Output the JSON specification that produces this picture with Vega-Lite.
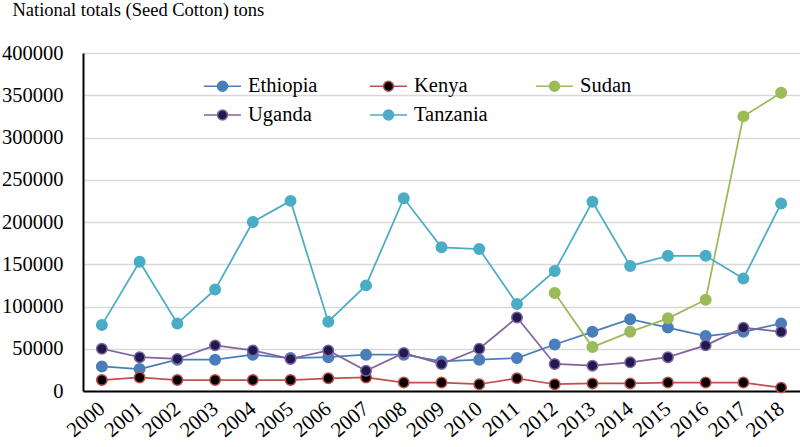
{
  "$schema": "https://vega.github.io/schema/vega-lite/v6.json",
  "autosize": {"type": "none"},
  "width": 717,
  "height": 338,
  "padding": {"left": 83, "top": 53, "right": 0, "bottom": 56},
  "background": "white",
  "config": {
    "view": {"stroke": null},
    "legend": {
      "orient": "none", "legendX": 120, "legendY": 22, "direction": "horizontal", "columns": 3,
      "gridAlign": "all", "columnPadding": 45, "rowPadding": 7,
      "symbolType": "M-1,0H0.35M1.35,0H2.7M0.35,0A0.5,0.5 0 1,0 1.35,0A0.5,0.5 0 1,0 0.35,0Z",
      "symbolSize": 400, "symbolStrokeWidth": 1.5, "labelOffset": 23,
      "labelFont": "Liberation Serif", "labelFontSize": 20.5, "labelColor": "black", "labelLimit": 200
    }
  },
  "data": {"values": [
    {"year":"2000","country":"Ethiopia","value":29000},{"year":"2001","country":"Ethiopia","value":26000},{"year":"2002","country":"Ethiopia","value":37000},{"year":"2003","country":"Ethiopia","value":37000},{"year":"2004","country":"Ethiopia","value":43000},{"year":"2005","country":"Ethiopia","value":39000},{"year":"2006","country":"Ethiopia","value":40000},{"year":"2007","country":"Ethiopia","value":43000},{"year":"2008","country":"Ethiopia","value":43000},{"year":"2009","country":"Ethiopia","value":35000},{"year":"2010","country":"Ethiopia","value":37000},{"year":"2011","country":"Ethiopia","value":39000},{"year":"2012","country":"Ethiopia","value":55000},{"year":"2013","country":"Ethiopia","value":70000},{"year":"2014","country":"Ethiopia","value":85000},{"year":"2015","country":"Ethiopia","value":75000},{"year":"2016","country":"Ethiopia","value":65000},{"year":"2017","country":"Ethiopia","value":70000},{"year":"2018","country":"Ethiopia","value":80000},
    {"year":"2000","country":"Kenya","value":13000},{"year":"2001","country":"Kenya","value":16000},{"year":"2002","country":"Kenya","value":13000},{"year":"2003","country":"Kenya","value":13000},{"year":"2004","country":"Kenya","value":13000},{"year":"2005","country":"Kenya","value":13000},{"year":"2006","country":"Kenya","value":15000},{"year":"2007","country":"Kenya","value":16000},{"year":"2008","country":"Kenya","value":10000},{"year":"2009","country":"Kenya","value":10000},{"year":"2010","country":"Kenya","value":8000},{"year":"2011","country":"Kenya","value":15000},{"year":"2012","country":"Kenya","value":8000},{"year":"2013","country":"Kenya","value":9000},{"year":"2014","country":"Kenya","value":9000},{"year":"2015","country":"Kenya","value":10000},{"year":"2016","country":"Kenya","value":10000},{"year":"2017","country":"Kenya","value":10000},{"year":"2018","country":"Kenya","value":4000},
    {"year":"2012","country":"Sudan","value":116000},{"year":"2013","country":"Sudan","value":52000},{"year":"2014","country":"Sudan","value":70000},{"year":"2015","country":"Sudan","value":86000},{"year":"2016","country":"Sudan","value":108000},{"year":"2017","country":"Sudan","value":325000},{"year":"2018","country":"Sudan","value":353000},
    {"year":"2000","country":"Uganda","value":50000},{"year":"2001","country":"Uganda","value":40000},{"year":"2002","country":"Uganda","value":38000},{"year":"2003","country":"Uganda","value":54000},{"year":"2004","country":"Uganda","value":48000},{"year":"2005","country":"Uganda","value":38000},{"year":"2006","country":"Uganda","value":48000},{"year":"2007","country":"Uganda","value":24000},{"year":"2008","country":"Uganda","value":45000},{"year":"2009","country":"Uganda","value":32000},{"year":"2010","country":"Uganda","value":50000},{"year":"2011","country":"Uganda","value":87000},{"year":"2012","country":"Uganda","value":32000},{"year":"2013","country":"Uganda","value":30000},{"year":"2014","country":"Uganda","value":34000},{"year":"2015","country":"Uganda","value":40000},{"year":"2016","country":"Uganda","value":54000},{"year":"2017","country":"Uganda","value":75000},{"year":"2018","country":"Uganda","value":70000},
    {"year":"2000","country":"Tanzania","value":78000},{"year":"2001","country":"Tanzania","value":153000},{"year":"2002","country":"Tanzania","value":80000},{"year":"2003","country":"Tanzania","value":120000},{"year":"2004","country":"Tanzania","value":200000},{"year":"2005","country":"Tanzania","value":225000},{"year":"2006","country":"Tanzania","value":82000},{"year":"2007","country":"Tanzania","value":125000},{"year":"2008","country":"Tanzania","value":228000},{"year":"2009","country":"Tanzania","value":170000},{"year":"2010","country":"Tanzania","value":168000},{"year":"2011","country":"Tanzania","value":103000},{"year":"2012","country":"Tanzania","value":142000},{"year":"2013","country":"Tanzania","value":224000},{"year":"2014","country":"Tanzania","value":148000},{"year":"2015","country":"Tanzania","value":160000},{"year":"2016","country":"Tanzania","value":160000},{"year":"2017","country":"Tanzania","value":133000},{"year":"2018","country":"Tanzania","value":222000}
  ]},
  "encoding": {
    "x": {
      "field": "year", "type": "ordinal", "sort": null,
      "scale": {"type": "point", "padding": 0.5},
      "axis": {
        "title": null, "labelAngle": -40, "labelAlign": "right", "labelBaseline": "middle",
        "labelFont": "Liberation Serif", "labelFontSize": 21, "labelColor": "black",
        "labelPadding": 15, "ticks": false, "domainColor": "black", "domainWidth": 2, "grid": false
      }
    },
    "y": {
      "field": "value", "type": "quantitative",
      "scale": {"domain": [0, 400000], "nice": false},
      "axis": {
        "values": [0, 50000, 100000, 150000, 200000, 250000, 300000, 350000, 400000],
        "format": "d", "ticks": false, "labelPadding": 20,
        "labelFont": "Liberation Serif", "labelFontSize": 20.5, "labelColor": "black",
        "domainColor": "black", "domainWidth": 2,
        "gridColor": "#d9d9d9", "gridWidth": 1.5,
        "title": "National totals (Seed Cotton) tons", "titleAngle": 0, "titleX": -71, "titleY": -38,
        "titleAlign": "left", "titleBaseline": "alphabetic",
        "titleFont": "Liberation Serif", "titleFontSize": 18.5, "titleFontWeight": "normal", "titleColor": "black"
      }
    }
  },
  "layer": [
    {
      "mark": {"type": "line", "strokeWidth": 1.75},
      "encoding": {
        "stroke": {
          "field": "country", "type": "nominal", "title": null,
          "scale": {"domain": ["Ethiopia", "Kenya", "Sudan", "Uganda", "Tanzania"], "range": ["#4a7ebb", "#c0504d", "#9bbb59", "#8064a2", "#4bacc6"]}
        }
      }
    },
    {
      "mark": {"type": "point", "filled": true, "size": 110, "strokeWidth": 1.5, "opacity": 1},
      "encoding": {
        "stroke": {
          "field": "country", "type": "nominal", "title": null,
          "scale": {"domain": ["Ethiopia", "Kenya", "Sudan", "Uganda", "Tanzania"], "range": ["#4a7ebb", "#c0504d", "#9bbb59", "#8064a2", "#4bacc6"]}
        },
        "fill": {
          "field": "country", "type": "nominal", "title": null,
          "scale": {"domain": ["Ethiopia", "Kenya", "Sudan", "Uganda", "Tanzania"], "range": ["#4a7ebb", "#000000", "#9bbb59", "#1f1b4f", "#4bacc6"]}
        }
      }
    }
  ]
}
